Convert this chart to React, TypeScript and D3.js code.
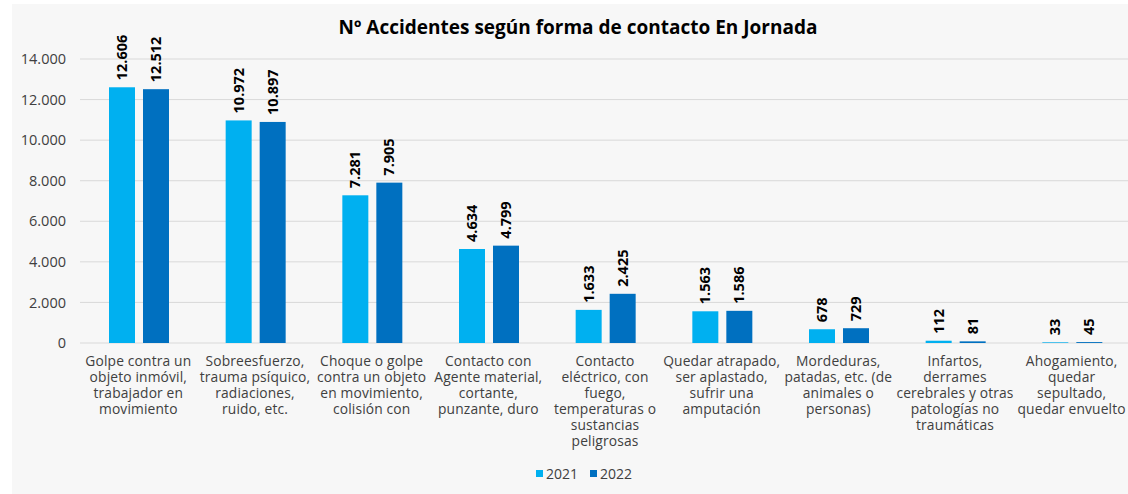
import React from 'react';
import * as d3 from 'd3';

const categories = [
  ['Golpe contra un', 'objeto inmóvil,', 'trabajador en', 'movimiento'],
  ['Sobreesfuerzo,', 'trauma psíquico,', 'radiaciones,', 'ruido, etc.'],
  ['Choque o golpe', 'contra un objeto', 'en movimiento,', 'colisión con'],
  ['Contacto con', 'Agente material,', 'cortante,', 'punzante, duro'],
  ['Contacto', 'eléctrico, con', 'fuego,', 'temperaturas o', 'sustancias', 'peligrosas'],
  ['Quedar atrapado,', 'ser aplastado,', 'sufrir una', 'amputación'],
  ['Mordeduras,', 'patadas, etc. (de', 'animales o', 'personas)'],
  ['Infartos,', 'derrames', 'cerebrales y otras', 'patologías no', 'traumáticas'],
  ['Ahogamiento,', 'quedar', 'sepultado,', 'quedar envuelto'],
];
const series = ['2021', '2022'];
const values2021 = [12606, 10972, 7281, 4634, 1633, 1563, 678, 112, 33];
const values2022 = [12512, 10897, 7905, 4799, 2425, 1586, 729, 81, 45];
const yTicks = [0, 2000, 4000, 6000, 8000, 10000, 12000, 14000];
const colors = ['#00b0f0', '#0070c0'];
const title = 'Nº Accidentes según forma de contacto En Jornada';

const W = 1128;
const H = 494;
const margin = { top: 59, right: -2, bottom: 151, left: 80 };
const font = "'Open Sans', sans-serif";

const locale = d3.formatLocale({ decimal: ',', thousands: '.', grouping: [3], currency: ['', '€'] });
const fmt = locale.format(',d');

export default function App() {
  const x = d3.scaleBand<number>()
    .domain(d3.range(categories.length))
    .range([margin.left, W - margin.right]);
  // two bars of 26px with an 8px gap inside each category band
  const x1 = d3.scaleBand<string>()
    .domain(series)
    .range([29, 29 + 60])
    .paddingInner(8 / 34);
  const y = d3.scaleLinear().domain([0, 14000]).range([H - margin.bottom, margin.top]);
  const data = [values2021, values2022];

  return (
    <svg width={W} height={H} style={{ position: 'absolute', left: 0, top: 0 }} fontFamily={font}>
      <rect x={0} y={0} width={W} height={H} fill="#ffffff" />
      <rect x={12} y={4} width={W - 12} height={H - 4} fill="#f7f7f7" />
      <text x={578} y={34} textAnchor="middle" fontWeight="bold" fontSize={19} fill="#000">{title}</text>
      {yTicks.map(t => (
        <g key={t}>
          <line x1={margin.left} x2={W} y1={y(t)} y2={y(t)} stroke="#d9d9d9" strokeWidth={1} />
          <text x={66} y={y(t)} dy="0.35em" textAnchor="end" fontSize={14.5} fill="#404040">{fmt(t)}</text>
        </g>
      ))}
      {data.map((vals, si) => (
        <g key={si}>
          {vals.map((v, i) => {
            const bx = (x(i) as number) + (x1(series[si]) as number);
            const bw = x1.bandwidth();
            const top = y(v);
            return (
              <g key={i}>
                <rect x={bx} y={top} width={bw} height={y(0) - top} fill={colors[si]} />
                <text
                  transform={`translate(${bx + bw / 2},${top - 7}) rotate(-90)`}
                  dy="0.35em"
                  fontSize={14.5}
                  fontWeight="bold"
                  fill="#000"
                >{fmt(v)}</text>
              </g>
            );
          })}
        </g>
      ))}
      {categories.map((lines, i) => (
        <text key={i} textAnchor="middle" fontSize={13.8} fill="#404040" letterSpacing={0.15}>
          {lines.map((l, li) => (
            <tspan key={li} x={(x(i) as number) + x.bandwidth() / 2} y={366 + li * 16}>{l}</tspan>
          ))}
        </text>
      ))}
      {series.map((s, si) => (
        <g key={s} transform={`translate(${536 + si * 54},474)`}>
          <rect x={0} y={-4} width={7} height={7} fill={colors[si]} />
          <text x={10} y={0} dy="0.35em" fontSize={14} fill="#404040">{s}</text>
        </g>
      ))}
    </svg>
  );
}
